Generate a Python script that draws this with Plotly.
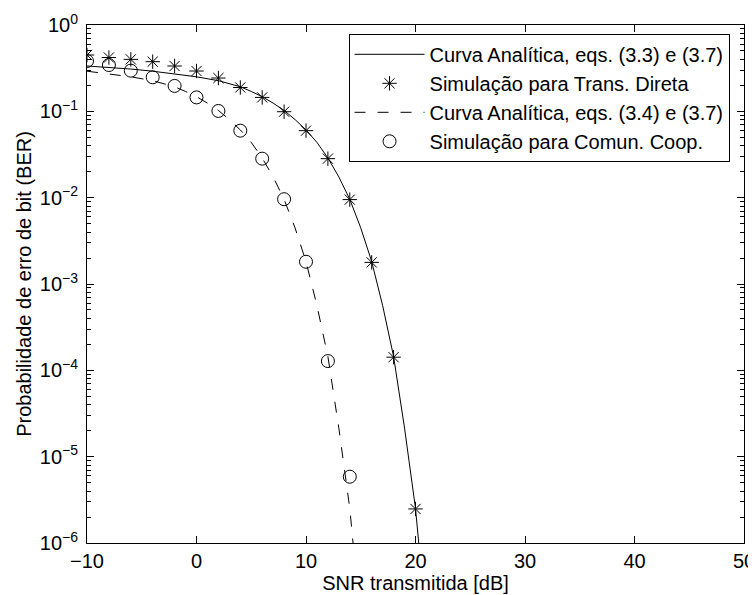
import plotly.graph_objects as go

# ---- data ----
snr_direct_sim = [-10, -8, -6, -4, -2, 0, 2, 4, 6, 8, 10, 12, 14, 16, 18, 20]
ber_direct_sim = [0.449, 0.42, 0.40, 0.376, 0.335, 0.293, 0.243, 0.189, 0.145,
                  0.099, 0.0597, 0.0283, 0.0095, 0.00178, 1.42e-4, 2.48e-6]

snr_coop_sim = [-10, -8, -6, -4, -2, 0, 2, 4, 6, 8, 10, 12, 14]
ber_coop_sim = [0.383, 0.344, 0.296, 0.248, 0.197, 0.145, 0.101, 0.0597,
                0.0283, 0.0096, 0.00181, 1.28e-4, 5.86e-6]

snr_direct_an = [-10, -8, -6, -4, -2, 0, 2, 3, 4, 5, 6, 7, 8, 9, 10, 11, 12,
                 13, 14, 15, 16, 17, 18, 19, 20, 21]
log_ber_direct_an = [-0.475, -0.49, -0.51, -0.535, -0.565, -0.600, -0.645,
                     -0.678, -0.715, -0.77, -0.83, -0.905, -0.99, -1.095,
                     -1.215, -1.36, -1.54, -1.76, -2.02, -2.35, -2.74, -3.25,
                     -3.84, -4.67, -5.60, -6.95]

snr_coop_an = [-10, -8, -6, -4, -3, -2, -1, 0, 1, 2, 3, 4, 5, 6, 7, 8, 9, 10,
               11, 12, 13, 14, 15]
log_ber_coop_an = [-0.535, -0.565, -0.600, -0.645, -0.678, -0.715, -0.77,
                   -0.83, -0.905, -0.99, -1.095, -1.215, -1.36, -1.54, -1.76,
                   -2.02, -2.35, -2.74, -3.25, -3.84, -4.67, -5.60, -6.95]

y_tick_exps = [0, -1, -2, -3, -4, -5, -6]
x_ticks = [-10, 0, 10, 20, 30, 40, 50]

labels = ["Curva Analítica, eqs. (3.3) e (3.7)",
          "Simulação para Trans. Direta",
          "Curva Analítica, eqs. (3.4) e (3.7)",
          "Simulação para Comun. Coop."]

FONT = "Liberation Sans, Arial, Helvetica, sans-serif"
FS = 20

fig = go.Figure()
fig.add_trace(go.Scatter(
    x=snr_direct_an, y=[10 ** v for v in log_ber_direct_an], mode="lines",
    line=dict(color="black", width=1), name=labels[0]))
fig.add_trace(go.Scatter(
    x=snr_direct_sim, y=ber_direct_sim, mode="markers",
    marker=dict(symbol="asterisk-open", size=12, color="black",
                line=dict(color="black", width=1)), name=labels[1]))
fig.add_trace(go.Scatter(
    x=snr_coop_an, y=[10 ** v for v in log_ber_coop_an], mode="lines",
    line=dict(color="black", width=1, dash="11px,12px"), name=labels[2]))
fig.add_trace(go.Scatter(
    x=snr_coop_sim, y=ber_coop_sim, mode="markers",
    marker=dict(symbol="circle-open", size=13, color="black",
                line=dict(color="black", width=1)), name=labels[3]))

minor_vals = [m * 10 ** e for e in range(-6, 0) for m in range(2, 10)]

# the page body adds an 8 px offset, so the figure is 8 px smaller each way
fig.update_layout(
    width=748, height=587,
    margin=dict(l=79, r=12, t=17, b=52, autoexpand=False),
    paper_bgcolor="white", plot_bgcolor="white",
    font=dict(family=FONT, size=FS, color="black"),
    showlegend=True,
    legend=dict(x=0.978, y=0.983, xanchor="right", yanchor="top",
                bgcolor="white", bordercolor="black", borderwidth=1,
                font=dict(family=FONT, size=FS), tracegroupgap=0,
                itemwidth=70),
)
fig.update_xaxes(
    range=[-10, 50], tickvals=x_ticks, ticks="inside", ticklen=7,
    tickcolor="black", showline=True, linecolor="black", linewidth=1,
    mirror="allticks", showgrid=False, zeroline=False, automargin=False,
    title=dict(text="SNR transmitida [dB]", font=dict(size=FS), standoff=0),
    tickfont=dict(size=FS))
fig.update_yaxes(
    type="log", range=[-6, 0],
    tickvals=[10 ** e for e in y_tick_exps],
    ticktext=["10<sup>%s</sup>" % (str(e).replace("-", "\u2212")) for e in y_tick_exps],
    ticks="inside", ticklen=7, tickcolor="black", ticklabelstandoff=4,
    minor=dict(tickvals=minor_vals, ticks="inside", ticklen=4,
               tickcolor="black", showgrid=False),
    showline=True, linecolor="black", linewidth=1, mirror="allticks",
    showgrid=False, zeroline=False, automargin=False,
    title=dict(text="Probabilidade de erro de bit (BER)", font=dict(size=FS),
               standoff=2),
    tickfont=dict(size=FS))

fig.write_html("out.html")
